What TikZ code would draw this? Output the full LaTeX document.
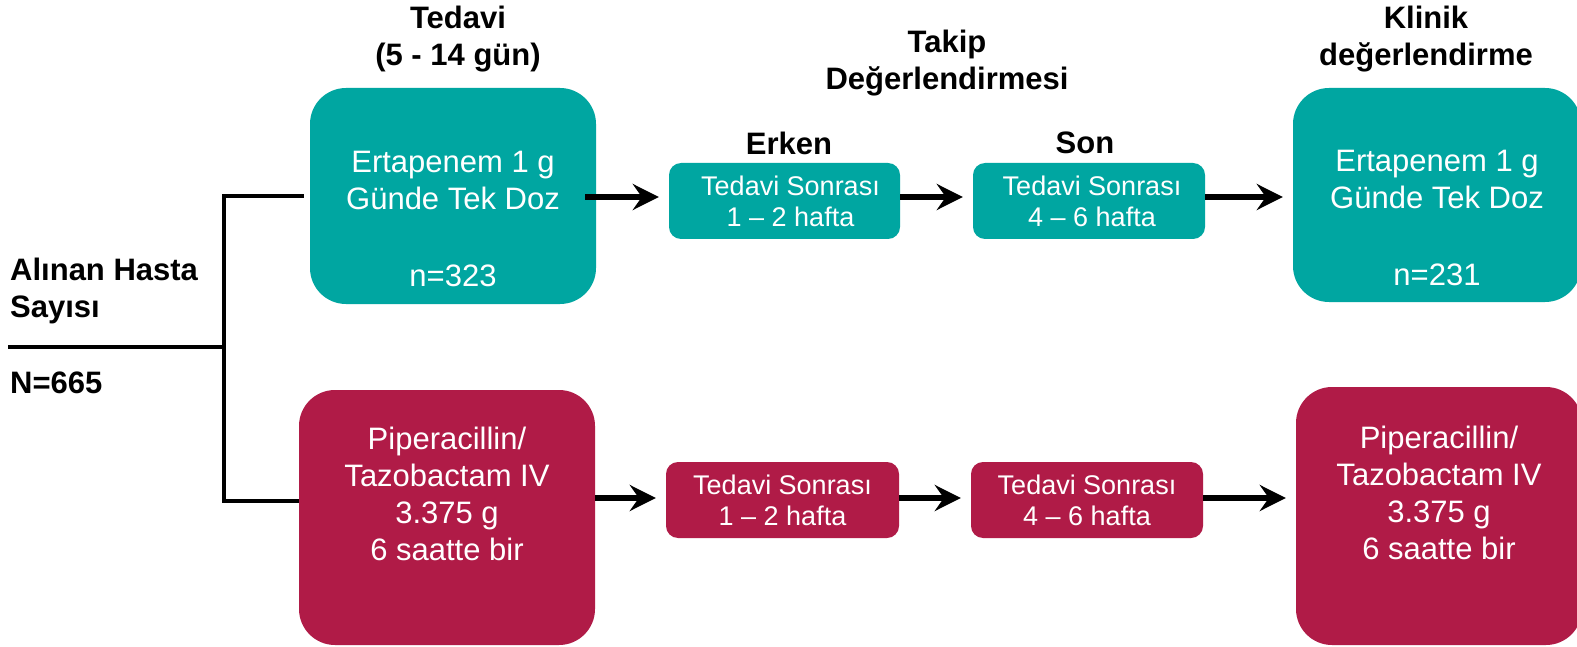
\documentclass[tikz,border=0pt]{standalone}
\usepackage{fontspec}
\setmainfont{Liberation Sans}
\usetikzlibrary{arrows.meta}
\definecolor{tealbox}{RGB}{0,166,161}
\definecolor{winebox}{RGB}{176,27,71}
\begin{document}
\begin{tikzpicture}[x=1pt,y=-1pt,
  boxbase/.style={rectangle, inner sep=0pt, text=white, align=center},
  bigbox/.style={boxbase, rounded corners=36pt},
  smallbox/.style={boxbase, rounded corners=12pt, font=\fontsize{27}{31}\selectfont},
  tealc/.style={fill=tealbox},
  winec/.style={fill=winebox},
  bigtxt/.style={text=white, align=center, inner sep=0pt, font=\fontsize{31}{37}\selectfont},
  head/.style={text=black, align=center, inner sep=0pt, font=\fontsize{31}{37}\selectfont\bfseries},
  arr/.style={line width=5.5pt, shorten >=10pt, -{Stealth[length=26pt,width=26pt,inset=9pt]}},
  tree/.style={line width=4.5pt, line join=miter, line cap=butt}]
\clip (0,0) rectangle (1577,647);
\fill[white] (0,0) rectangle (1577,647);

% headers
\node[head] (hTedavi) at (458,39.5) {Tedavi\\(5 - 14 gün)};
\node[head] (hTakip) at (947,63) {Takip\\Değerlendirmesi};
\node[head] (hKlinik) at (1426,39.5) {Klinik\\değerlendirme};
\node[head] (hErken) at (789,143) {Erken};
\node[head] (hSon) at (1085,143) {Son};
\node[head, align=left, anchor=west] (hAlinan) at (10,290.5) {Alınan Hasta\\Sayısı};
\node[head, anchor=west] (hN) at (10,383) {N=665};

% top row boxes
\node[bigbox, tealc, minimum width=286pt, minimum height=216pt] (b1) at (453,196) {};
\node[bigtxt, yshift=-22.5pt] (b1t) at (b1) {Ertapenem 1 g\\Günde Tek Doz\\[40pt]n=323};
\node[smallbox, tealc, minimum width=231pt, minimum height=76pt] (s1) at (784.5,201) {\hspace*{12pt}Tedavi Sonrası\\\hspace*{12pt}1 – 2 hafta};
\node[smallbox, tealc, minimum width=232pt, minimum height=76pt] (s2) at (1089,201) {\hspace*{6pt}Tedavi Sonrası\\\hspace*{6pt}4 – 6 hafta};
\node[bigbox, tealc, minimum width=288pt, minimum height=214pt] (b2) at (1437,195) {};
\node[bigtxt, yshift=-22.5pt] (b2t) at (b2) {Ertapenem 1 g\\Günde Tek Doz\\[40pt]n=231};

% bottom row boxes
\node[bigbox, winec, minimum width=296pt, minimum height=255pt] (r1) at (447,517.5) {};
\node[bigtxt, yshift=23.5pt] (r1t) at (r1) {Piperacillin/\\Tazobactam IV\\3.375 g\\6 saatte bir};
\node[smallbox, winec, minimum width=233pt, minimum height=76pt] (s3) at (782.5,500) {Tedavi Sonrası\\1 – 2 hafta};
\node[smallbox, winec, minimum width=232pt, minimum height=76pt] (s4) at (1087,500) {Tedavi Sonrası\\4 – 6 hafta};
\node[bigbox, winec, minimum width=286pt, minimum height=258pt] (r2) at (1439,516) {};
\node[bigtxt, yshift=23pt] (r2t) at (r2) {Piperacillin/\\Tazobactam IV\\3.375 g\\6 saatte bir};

% tree
\coordinate (root) at (8,347);
\coordinate (jm) at (224,347);
\coordinate (jt) at (224,196);
\coordinate (jb) at (224,501);
\draw[tree] (root) -- (jm);
\draw[tree] ([xshift=-6pt]b1.west |- jt) -- (jt) -- (jb) -- (r1.west |- jb);

% arrows
\coordinate (row1) at (0,197);
\coordinate (row2) at (0,498);
\draw[arr] ([xshift=-11pt]b1.east |- row1) -- (s1.west |- row1);
\draw[arr] (s1.east |- row1) -- (s2.west |- row1);
\draw[arr] (s2.east |- row1) -- (b2.west |- row1);
\draw[arr] (r1.east |- row2) -- (s3.west |- row2);
\draw[arr] (s3.east |- row2) -- (s4.west |- row2);
\draw[arr] (s4.east |- row2) -- (r2.west |- row2);
\end{tikzpicture}
\end{document}
